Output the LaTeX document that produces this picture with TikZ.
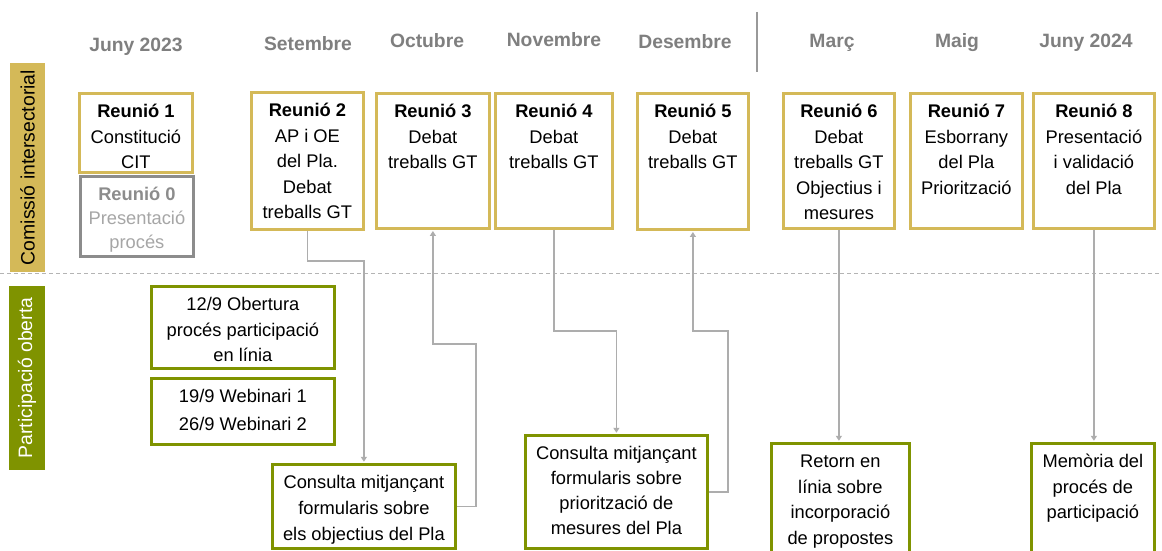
\documentclass[tikz,border=0pt]{standalone}
\usepackage{fontspec}
\setmainfont{Liberation Sans}
\usetikzlibrary{arrows.meta}
\definecolor{gold}{HTML}{D4B958}
\definecolor{olive}{HTML}{7F9300}
\definecolor{conngray}{HTML}{ADADAD}
\definecolor{monthgray}{HTML}{7F7F7F}
\definecolor{boxgray}{HTML}{8C8C8C}
\definecolor{txtgray}{HTML}{A6A6A6}
\definecolor{dashgray}{HTML}{B4B4B4}
\newcommand{\bxt}[4][25.5bp]{\parbox[c][#3][t]{#2}{\fontsize{18.3bp}{#1}\selectfont\centering\rule{0pt}{24.5bp}#4\par}}
\begin{document}
\begin{tikzpicture}[x=1bp,y=-1bp,
  goldbox/.style={draw=gold,line width=2.8bp,fill=white,inner sep=0pt,anchor=north west},
  greenbox/.style={draw=olive,line width=2.8bp,fill=white,inner sep=0pt,anchor=north west},
  greybox/.style={draw=boxgray,line width=2.8bp,fill=white,inner sep=0pt,anchor=north west,text=txtgray},
  month/.style={font=\fontsize{19.3bp}{23bp}\selectfont\bfseries,text=monthgray,anchor=base,inner sep=0pt},
  sidebar/.style={rotate=90,inner sep=0pt,font=\fontsize{19.4bp}{23bp}\selectfont},
  conn/.style={draw=conngray,line width=1.6bp,-{Triangle[width=6bp,length=5bp]},shorten >=1.2bp}
]
\useasboundingbox (0,0) rectangle (1162,551);
\clip (0,0) rectangle (1162,551);
\fill[white] (0,0) rectangle (1162,551);

% side bars
\node[sidebar,fill=gold,minimum width=209bp,minimum height=35bp] (cit) at (27.5,167.5) {Comissió intersectorial};
\node[sidebar,fill=olive,text=white,minimum width=184bp,minimum height=36bp] (po) at (27,378) {Participació oberta};

% separators
\draw[dashgray,line width=1bp,dash pattern=on 4bp off 3bp] (0,274) -- (1162,274);
\draw[draw=gray!80,line width=1.2bp] (757,12) -- (757,72);

% months
\node[month] (m1) at (136,52) {Juny 2023};
\node[month] (m2) at (308,51) {Setembre};
\node[month] (m3) at (427,48) {Octubre};
\node[month] (m4) at (554,47) {Novembre};
\node[month] (m5) at (685,49) {Desembre};
\node[month] (m6) at (832,48) {Març};
\node[month] (m7) at (957,48) {Maig};
\node[month] (m8) at (1086,48) {Juny 2024};

% commission meetings
\node[goldbox] (r1) at (78,92) {\bxt{113bp}{79bp}{\textbf{Reunió 1}\\Constitució\\CIT}};
\node[greybox] (r0) at (79,175) {\bxt[24bp]{113bp}{80bp}{\textbf{\color{boxgray}Reunió 0}\\Presentació\\procés}};
\node[goldbox] (r2) at (250,91) {\bxt{112bp}{137bp}{\textbf{Reunió 2}\\AP i OE\\del Pla.\\Debat\\treballs GT}};
\node[goldbox] (r3) at (375,92) {\bxt{113bp}{135bp}{\textbf{Reunió 3}\\Debat\\treballs GT}};
\node[goldbox] (r4) at (494,92) {\bxt{117bp}{135bp}{\textbf{Reunió 4}\\Debat\\treballs GT}};
\node[goldbox] (r5) at (636,92) {\bxt{111bp}{136bp}{\textbf{Reunió 5}\\Debat\\treballs GT}};
\node[goldbox] (r6) at (782,92) {\bxt{111bp}{135bp}{\textbf{Reunió 6}\\Debat\\treballs GT\\Objectius i\\mesures}};
\node[goldbox] (r7) at (909,92) {\bxt{112bp}{135bp}{\textbf{Reunió 7}\\Esborrany\\del Pla\\Priorització}};
\node[goldbox] (r8) at (1032,92) {\bxt{121bp}{135bp}{\textbf{Reunió 8}\\Presentació\\i validació\\del Pla}};

% open participation
\node[greenbox] (p1) at (150,285) {\bxt{183bp}{82bp}{12/9 Obertura\\procés participació\\en línia}};
\node[greenbox] (p2) at (150,377) {\bxt[28bp]{183bp}{66bp}{19/9 Webinari 1\\26/9 Webinari 2}};
\node[greenbox] (c1) at (271,463) {\bxt[26bp]{183bp}{84bp}{Consulta mitjançant\\formularis sobre\\els objectius del Pla}};
\node[greenbox] (c2) at (524,434) {\bxt[25bp]{182bp}{113bp}{Consulta mitjançant\\formularis sobre\\priorització de\\mesures del Pla}};
\node[greenbox] (ret) at (770,442) {\bxt{138bp}{120bp}{Retorn en\\línia sobre\\incorporació\\de propostes}};
\node[greenbox] (mem) at (1030,442) {\bxt{123bp}{120bp}{Memòria del\\procés de\\participació}};

% routing points
\coordinate (k1) at (0,261);
\coordinate (k2) at (476,344);
\coordinate (k3) at (0,331);
\coordinate (k4) at (728,331);

% connectors
\draw[conn] (r2.south) |- (c1.north |- k1) -- (c1.north);
\draw[conn] (c1.east) -| (k2) -| (r3.south);
\draw[conn] (r4.south) |- (c2.north |- k3) -- (c2.north);
\draw[conn] (c2.east) -| (k4) -| (r5.south);
\draw[conn] (r6.south) -- (r6.south |- ret.north);
\draw[conn] (r8.south) -- (r8.south |- mem.north);
\end{tikzpicture}
\end{document}
